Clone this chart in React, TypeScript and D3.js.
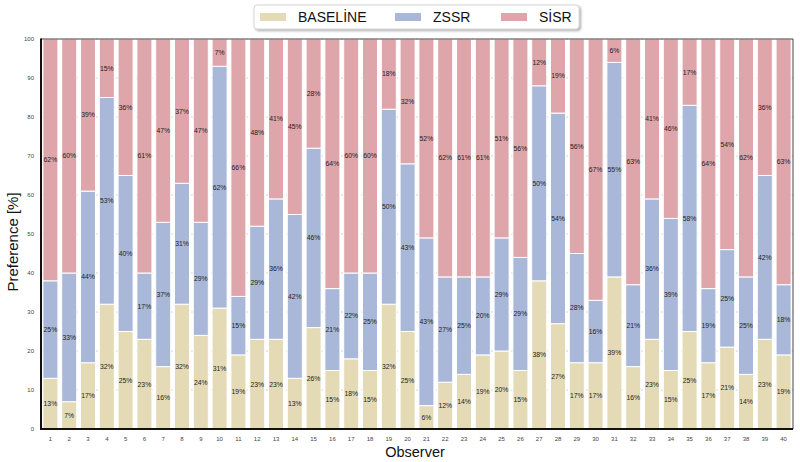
import React from "react";
import * as d3 from "d3";

const observers = d3.range(1, 41).map(String);
const baseline = [13,7,17,32,25,23,16,32,24,31,19,23,23,13,26,15,18,15,32,25,6,12,14,19,20,15,38,27,17,17,39,16,23,15,25,17,21,14,23,19];
const zssr = [25,33,44,53,40,17,37,31,29,62,15,29,36,42,46,21,22,25,50,43,43,27,25,20,29,29,50,54,28,16,55,21,36,39,58,19,25,25,42,18];
const sisr = [62,60,39,15,36,61,47,37,47,7,66,48,41,45,28,64,60,60,18,32,52,62,61,61,51,56,12,19,56,67,6,63,41,46,17,64,54,62,36,63];
const yTicks = [0,10,20,30,40,50,60,70,80,90,100];
const seriesNames = ["BASELİNE", "ZSSR", "SİSR"];
const colors = ["#e4dbb6", "#a9b8d9", "#dea5aa"];

const W = 800, H = 462;
const M = { left: 41, right: 793, top: 39, bottom: 429 };

export default function App() {
  const rows = observers.map((o, i) => ({ o, b: baseline[i], z: zssr[i], s: sisr[i] }));
  const stack = d3.stack<any>().keys(["b", "z", "s"])(rows);
  const x = d3.scaleBand().domain(observers).range([M.left, M.right]).paddingInner(0.2).paddingOuter(0.1);
  const y = d3.scaleLinear().domain([0, 100]).range([M.bottom, M.top]).clamp(true);
  const font = "'Liberation Sans', Arial, sans-serif";
  return (
    <svg width={W} height={H} style={{ position: "absolute", left: 0, top: 0, fontFamily: font }}>
      <defs>
        <filter id="sh" x="-10%" y="-30%" width="120%" height="180%">
          <feDropShadow dx="1.5" dy="1.5" stdDeviation="1" floodColor="#000" floodOpacity="0.35" />
        </filter>
      </defs>
      <rect width={W} height={H} fill="#fff" />
      {yTicks.map(t => (
        <line key={t} x1={M.left} x2={M.right} y1={y(t)} y2={y(t)} stroke="#c8c8c8" strokeWidth={0.8} strokeDasharray="2,3" />
      ))}
      {stack.map((layer, li) => (
        <g key={li}>
          {layer.map((d: any, i: number) => {
            const y0 = y(d[0]), y1 = y(d[1]);
            return (
              <rect key={i} x={x(observers[i])!} width={x.bandwidth()} y={y1} height={y0 - y1}
                fill={colors[li]} stroke="#fff" strokeWidth={1} />
            );
          })}
        </g>
      ))}
      {stack.map((layer, li) => (
        <g key={"l" + li}>
          {layer.map((d: any, i: number) => {
            const v = [baseline, zssr, sisr][li][i];
            const cy = (y(d[0]) + y(d[1])) / 2;
            return (
              <text key={i} x={x(observers[i])! + x.bandwidth() / 2} y={cy} dy="0.35em" textAnchor="middle"
                fontSize={6.8} fill="#222">{v}%</text>
            );
          })}
        </g>
      ))}
      <line x1={M.left} x2={M.right} y1={M.top} y2={M.top} stroke="#444" strokeWidth={1} />
      <line x1={M.right} x2={M.right} y1={M.top} y2={M.bottom} stroke="#444" strokeWidth={1} />
      <line x1={M.left} x2={M.left} y1={M.top - 0.5} y2={M.bottom + 1} stroke="#111" strokeWidth={2} />
      <line x1={M.left - 1} x2={M.right} y1={M.bottom} y2={M.bottom} stroke="#111" strokeWidth={2} />
      {yTicks.map(t => (
        <text key={t} x={34} y={y(t)} dy="0.35em" textAnchor="end" fontSize={6} fill="#444">{t}</text>
      ))}
      {observers.map(o => (
        <text key={o} x={x(o)! + x.bandwidth() / 2} y={441} textAnchor="middle" fontSize={6} fill="#444">{o}</text>
      ))}
      <text x={415} y={457} textAnchor="middle" fontSize={14.5} fill="#111">Observer</text>
      <text transform={`translate(18,242) rotate(-90)`} textAnchor="middle" fontSize={15} fill="#111">Preference [%]</text>
      <rect x={254} y={5} width={325} height={24} rx={3} fill="#fff" stroke="#ccc" strokeWidth={0.8} filter="url(#sh)" />
      {seriesNames.map((n, i) => {
        const xs = [260, 395, 501][i];
        return (
          <g key={n}>
            <rect x={xs} y={13} width={26} height={8} fill={colors[i]} />
            <text x={xs + 38} y={22} fontSize={14} fill="#111">{n}</text>
          </g>
        );
      })}
    </svg>
  );
}
